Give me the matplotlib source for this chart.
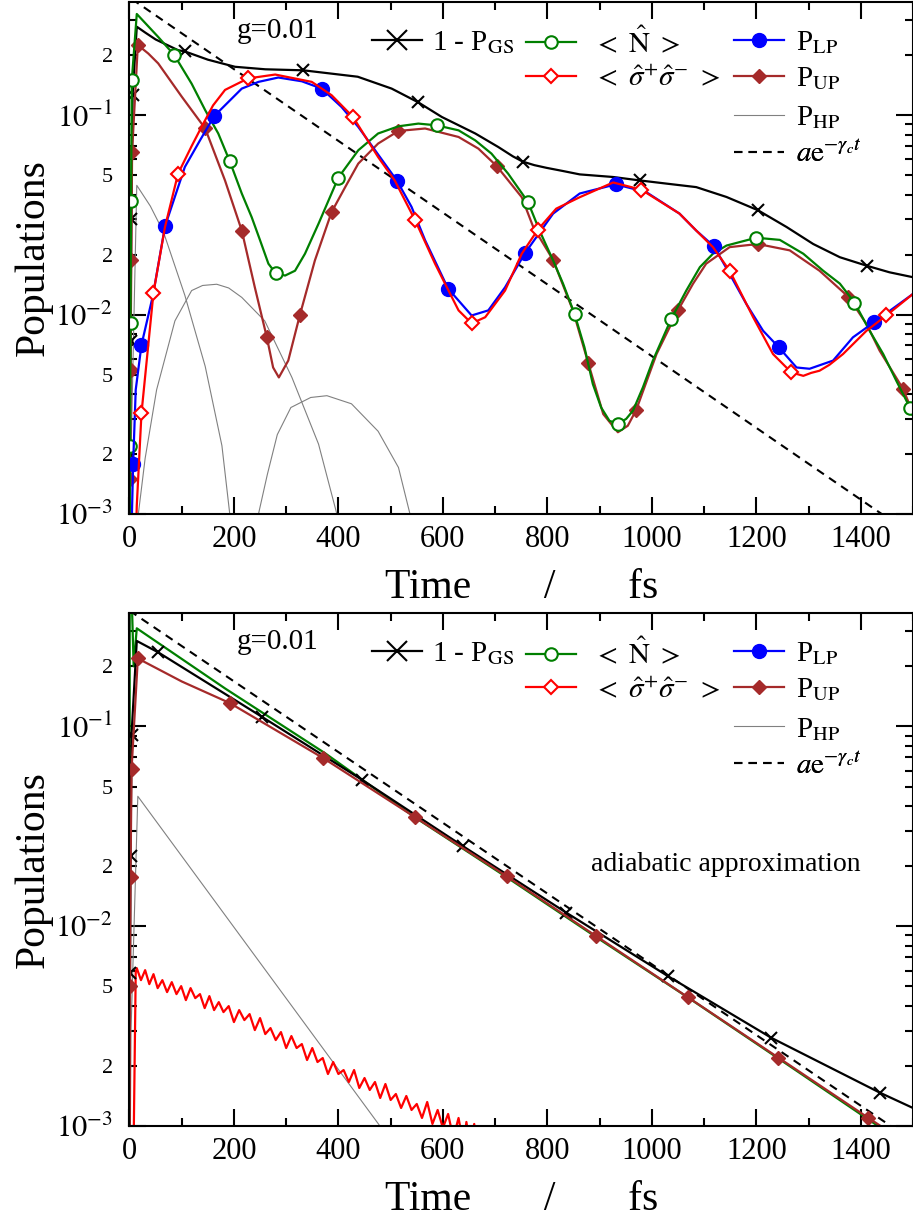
import numpy as np
import matplotlib
matplotlib.use('Agg')
import matplotlib.pyplot as plt
from matplotlib.lines import Line2D
from matplotlib.ticker import MultipleLocator, LogLocator, FuncFormatter

plt.rcParams['font.family'] = ['Liberation Serif', 'DejaVu Serif']
plt.rcParams['mathtext.fontset'] = 'stix'

# ---------------- top panel (full dynamics) ----------------
top_gs_t = [0, 1, 2, 3.5, 6, 14, 30, 50, 93, 106, 150, 202, 260, 333, 437, 502, 553, 598, 662,
            706, 734, 753, 775, 798, 830, 862, 926, 977, 1028, 1085, 1143, 1203, 1258, 1309,
            1360, 1411, 1455, 1500]
top_gs_v = [3e-4, 0.002, 0.0074, 0.03, 0.126, 0.278, 0.26, 0.24, 0.212, 0.209, 0.19, 0.175, 0.17,
            0.168, 0.156, 0.136, 0.116, 0.098, 0.081, 0.0693, 0.0622, 0.0585, 0.0562, 0.0545,
            0.0525, 0.0505, 0.049, 0.0471, 0.0454, 0.0436, 0.0389, 0.0334, 0.0275, 0.0226,
            0.0194, 0.0176, 0.0163, 0.0154]
top_gs_mk = [1, 2, 3, 4, 9, 13, 16, 21, 27, 31, 35]

top_n_t = [0, 1, 2, 3, 4.5, 14, 55, 86, 119, 145, 170, 192, 215, 234, 250, 266, 280, 298, 317,
           336, 362, 400, 438, 476, 515, 553, 588, 630, 662, 693, 725, 763, 785, 811, 830, 852,
           871, 887, 903, 919, 936, 951, 964, 983, 1002, 1037, 1066, 1092, 1117, 1143, 1200,
           1245, 1290, 1328, 1360, 1388, 1417, 1443, 1468, 1494, 1500]
top_n_v = [1e-4, 0.0022, 0.0091, 0.037, 0.15, 0.322, 0.247, 0.20, 0.144, 0.106, 0.081, 0.0588,
           0.0405, 0.0308, 0.0236, 0.018, 0.0161, 0.0157, 0.0166, 0.0202, 0.0286, 0.0487, 0.0667,
           0.081, 0.088, 0.0908, 0.089, 0.084, 0.0748, 0.0642, 0.0509, 0.0367, 0.0264, 0.0187,
           0.0143, 0.0101, 0.00686, 0.00449, 0.00342, 0.00293, 0.00284, 0.003, 0.0033, 0.00432,
           0.00588, 0.0095, 0.0132, 0.0173, 0.0202, 0.0222, 0.0243, 0.0237, 0.0202, 0.0166,
           0.0143, 0.0115, 0.0083, 0.00634, 0.00466, 0.00342, 0.0031]
top_n_mk = [1, 2, 3, 4, 7, 11, 16, 21, 26, 31, 35, 40, 45, 50, 55, 59]

top_s_t = [8, 14, 23, 46, 68, 93, 119, 138, 160, 183, 227, 279, 349, 387, 428, 476, 508, 547,
           585, 614, 630, 655, 681, 719, 751, 782, 817, 862, 926, 980, 1053, 1085, 1117, 1149,
           1194, 1232, 1267, 1290, 1305, 1321, 1340, 1366, 1411, 1449, 1500]
top_s_v = [3e-4, 0.0011, 0.0032, 0.0129, 0.0275, 0.0509, 0.07, 0.0874, 0.112, 0.134, 0.153,
           0.160, 0.147, 0.126, 0.098, 0.0617, 0.047, 0.0297, 0.018, 0.0127, 0.0105, 0.00904,
           0.0097, 0.0132, 0.0202, 0.0267, 0.034, 0.0388, 0.046, 0.0423, 0.0321, 0.0264, 0.0218,
           0.0166, 0.0097, 0.00634, 0.00513, 0.00493, 0.0051, 0.00523, 0.0056, 0.00634, 0.0083,
           0.0099, 0.0127]
top_s_mk = [2, 3, 5, 10, 14, 17, 21, 25, 29, 33, 36, 43]

top_lp_t = [2, 7, 12, 23, 45, 68, 106, 135, 162, 215, 247, 285, 330, 368, 406, 438, 512, 540,
            566, 610, 655, 687, 719, 757, 811, 862, 931, 989, 1053, 1085, 1119, 1149, 1181,
            1213, 1243, 1277, 1302, 1347, 1385, 1425, 1500]
top_lp_v = [5e-4, 0.00178, 0.0042, 0.00705, 0.0125, 0.0277, 0.055, 0.0748, 0.0989, 0.136, 0.147,
            0.1546, 0.148, 0.136, 0.110, 0.0874, 0.047, 0.0347, 0.0236, 0.0135, 0.0099, 0.0105,
            0.0137, 0.0203, 0.0321, 0.0405, 0.045, 0.0412, 0.0321, 0.0264, 0.0220, 0.016, 0.0113,
            0.0083, 0.00686, 0.00543, 0.00535, 0.00588, 0.00769, 0.00914, 0.0127]
top_lp_mk = [1, 3, 5, 8, 13, 16, 19, 23, 26, 30, 34, 39]

top_up_t = [0, 1, 2, 3.5, 5, 16, 36, 55, 100, 145, 183, 215, 240, 263, 275, 286, 304, 326, 355,
            387, 413, 438, 476, 515, 566, 630, 668, 703, 751, 773, 811, 849, 878, 907, 935, 954,
            970, 1009, 1050, 1079, 1104, 1149, 1203, 1264, 1321, 1376, 1411, 1436, 1481, 1500]
top_up_v = [3e-4, 0.0015, 0.0053, 0.0187, 0.0654, 0.225, 0.204, 0.182, 0.124, 0.0858, 0.047,
            0.0264, 0.0137, 0.00769, 0.00543, 0.00484, 0.00588, 0.0099, 0.0187, 0.0327, 0.0436,
            0.0572, 0.0721, 0.0834, 0.0858, 0.0778, 0.068, 0.0556, 0.0388, 0.0275, 0.0188,
            0.0105, 0.00575, 0.00317, 0.00257, 0.00277, 0.00332, 0.00634, 0.0105, 0.0143, 0.018,
            0.0218, 0.0226, 0.021, 0.0166, 0.0123, 0.00897, 0.0066, 0.00424, 0.0032]
top_up_mk = [1, 2, 3, 4, 5, 9, 11, 13, 17, 19, 23, 27, 30, 32, 36, 38, 42, 45, 48]

# higher polariton populations (thin grey arcs)
top_hp1_t = [0, 3, 14, 40, 65, 106, 145, 177, 192, 200]
top_hp1_v = [2e-4, 0.002, 0.0445, 0.035, 0.026, 0.0125, 0.0055, 0.0022, 0.001, 0.0007]
top_hp2_t = [12, 17, 30, 52, 87, 119, 140, 167, 190, 215, 259, 311, 362, 397, 405]
top_hp2_v = [0.0005, 0.001, 0.0019, 0.0042, 0.0093, 0.0132, 0.0140, 0.0142, 0.0136, 0.0122,
             0.0093, 0.00484, 0.00224, 0.001, 0.0008]
top_hp3_t = [240, 247, 264, 283, 309, 347, 378, 425, 476, 515, 537, 545]
top_hp3_v = [0.0007, 0.001, 0.00158, 0.0025, 0.00342, 0.00384, 0.00392, 0.00357, 0.0026,
             0.00171, 0.001, 0.0008]

top_fit_t = [0, 1500]
top_fit_v = [0.39, 0.00078]

# ---------------- bottom panel (adiabatic approximation) ----------------
bot_gs_t = [0, 1, 2, 4, 14, 55, 253, 445, 639, 836, 1031, 1229, 1436, 1500]
bot_gs_v = [3e-4, 0.0058, 0.0224, 0.091, 0.268, 0.235, 0.112, 0.0541, 0.0251, 0.0117, 0.00562,
            0.00276, 0.00147, 0.00123]
bot_gs_mk = [1, 2, 3, 5, 6, 7, 8, 9, 10, 11, 12]

bot_n_t = [0, 0.5, 8, 14, 183, 374, 547, 722, 894, 1069, 1242, 1414, 1500]
bot_n_v = [1e-4, 1.0, 0.2, 0.31, 0.155, 0.0736, 0.035, 0.0176, 0.0088, 0.0044, 0.00218, 0.00108,
           0.00076]

bot_up_t = [0, 1, 2, 4, 16, 100, 192, 371, 547, 722, 894, 1069, 1242, 1414, 1500]
bot_up_v = [3e-4, 0.005, 0.0176, 0.061, 0.219, 0.168, 0.131, 0.0694, 0.0351, 0.0178, 0.0089,
            0.00441, 0.0022, 0.0011, 0.00078]
bot_up_mk = [1, 2, 3, 4, 6, 7, 8, 9, 10, 11, 12, 13]

bot_s_t = [7, 12, 14, 22, 30, 38, 46, 54, 63, 72, 81, 90, 99, 108, 117, 126, 135, 144, 153, 162,
           171, 180, 190, 200, 210, 220, 230, 240, 250, 260, 270, 280, 290, 300, 310, 320, 330,
           340, 350, 360, 370, 380, 390, 400, 410, 420, 430, 440, 450, 460, 470, 480, 490, 500,
           510, 520, 530, 540, 550, 560, 570, 580, 590, 600, 610, 620, 630, 640, 645, 652, 660, 665]
bot_s_log = [-3.3, -2.23, -2.21, -2.27, -2.22, -2.29, -2.24, -2.31, -2.27, -2.33, -2.28, -2.34,
             -2.30, -2.37, -2.31, -2.36, -2.34, -2.41, -2.35, -2.42, -2.38, -2.43, -2.40, -2.48,
             -2.42, -2.47, -2.44, -2.52, -2.46, -2.54, -2.51, -2.57, -2.53, -2.61, -2.55, -2.61,
             -2.59, -2.67, -2.61, -2.68, -2.66, -2.74, -2.68, -2.74, -2.72, -2.78, -2.72, -2.81,
             -2.76, -2.82, -2.78, -2.86, -2.79, -2.87, -2.84, -2.91, -2.85, -2.92, -2.89, -2.96,
             -2.88, -2.99, -2.92, -3.01, -2.94, -3.06, -2.96, -3.10, -2.98, -3.10, -2.99, -3.10]

bot_hp_t = [0, 3, 16, 477, 485]
bot_hp_v = [2e-4, 0.003, 0.0447, 0.00102, 0.00095]

bot_fit_t = [0, 1500]
bot_fit_v = [0.38, 0.00084]

GREEN = '#007f00'
BROWN = '#a52a2a'
GREY = '#808080'
LW = 1.6

gs_style = dict(color='black', lw=LW, marker='x', ms=9, mew=1.5)
n_style = dict(color=GREEN, lw=LW, marker='o', ms=9, mfc='white', mew=1.5)
s_style = dict(color='red', lw=LW, marker='D', ms=7, mfc='white', mew=1.5)
lp_style = dict(color='blue', lw=LW, marker='o', ms=10)
up_style = dict(color=BROWN, lw=LW, marker='D', ms=7.5)
hp_style = dict(color=GREY, lw=0.8)
fit_style = dict(color='black', lw=1.5, ls=(0, (4, 3)))


def minor_fmt(v, _):
    e = np.floor(np.log10(v) + 1e-9)
    m = v / 10 ** e
    for k in (2, 5):
        if abs(m - k) < 1e-6:
            return str(k)
    return ''


def style_axes(ax):
    ax.set_yscale('log')
    ax.set_xlim(0, 1500)
    ax.set_ylim(1e-3, 0.37)
    ax.xaxis.set_major_locator(MultipleLocator(200))
    ax.xaxis.set_minor_locator(MultipleLocator(100))
    ax.yaxis.set_major_locator(LogLocator(base=10, numticks=10))
    ax.yaxis.set_minor_locator(LogLocator(base=10, subs=np.arange(2, 10), numticks=20))
    ax.yaxis.set_major_formatter(
        FuncFormatter(lambda v, _: '$10^{%d}$' % int(round(np.log10(v)))))
    ax.yaxis.set_minor_formatter(FuncFormatter(minor_fmt))
    ax.tick_params(which='both', direction='in', top=True, right=True, width=1.5)
    ax.tick_params(which='major', length=12, labelsize=22)
    ax.tick_params(which='minor', length=6)
    ax.tick_params(axis='x', which='both', pad=8)
    ax.tick_params(axis='y', which='both', pad=12)
    ax.tick_params(axis='y', which='minor', labelsize=16)
    for s in ax.spines.values():
        s.set_linewidth(1.5)
    ax.set_xlabel('Time       /       fs', fontsize=30)
    ax.set_ylabel('Populations', fontsize=30)
    ax.xaxis.set_label_coords(0.5, -0.106)
    ax.yaxis.set_label_coords(-0.098, 0.5)
    ax.text(0.137, 0.943, 'g=0.01', transform=ax.transAxes, fontsize=21, va='center')


def add_legends(ax):
    h_gs = Line2D([], [], **dict(gs_style, ms=14))
    h_n = Line2D([], [], **n_style)
    h_s = Line2D([], [], **s_style)
    h_lp = Line2D([], [], **lp_style)
    h_up = Line2D([], [], **up_style)
    h_hp = Line2D([], [], **hp_style)
    h_fit = Line2D([], [], **fit_style)
    # legend layout: (handle, label, column x, row, text pad)
    rows = [0.92, 0.8496, 0.7734, 0.701]
    entries = [
        (h_gs, r'1 - P$_{\mathrm{GS}}$', 0.3097, 0, 0.35),
        (h_n, r'$<\ \hat{\mathrm{N}}\ >$', 0.5064, 0, 0.6),
        (h_s, r'$<\ \hat{\sigma}^{+}\hat{\sigma}^{-}\ >$', 0.5064, 1, 0.6),
        (h_lp, r'P$_{\mathrm{LP}}$', 0.772, 0, 0.4),
        (h_up, r'P$_{\mathrm{UP}}$', 0.772, 1, 0.4),
        (h_hp, r'P$_{\mathrm{HP}}$', 0.772, 2, 0.4),
        (h_fit, r'$a\mathrm{e}^{-\gamma_c t}$', 0.772, 3, 0.4),
    ]
    for h, lab, x, r, pad in entries:
        leg = ax.legend([h], [lab], loc='center left', bbox_to_anchor=(x, rows[r]),
                        frameon=False, borderpad=0, borderaxespad=0, handlelength=1.7,
                        handletextpad=pad, fontsize=21, numpoints=1)
        ax.add_artist(leg)


fig = plt.figure(figsize=(9.13, 12.22), dpi=100)
ax1 = fig.add_axes([0.1418, 0.5794, 0.8582, 0.419])
ax2 = fig.add_axes([0.1418, 0.0786, 0.8582, 0.4198])

# top panel
ax1.plot(top_hp1_t, top_hp1_v, **hp_style)
ax1.plot(top_hp2_t, top_hp2_v, **hp_style)
ax1.plot(top_hp3_t, top_hp3_v, **hp_style)
ax1.plot(top_fit_t, top_fit_v, **fit_style)
ax1.plot(top_gs_t, top_gs_v, markevery=top_gs_mk, **gs_style)
ax1.plot(top_up_t, top_up_v, markevery=top_up_mk, **up_style)
ax1.plot(top_n_t, top_n_v, markevery=top_n_mk, **n_style)
ax1.plot(top_lp_t, top_lp_v, markevery=top_lp_mk, **lp_style)
ax1.plot(top_s_t, top_s_v, markevery=top_s_mk, **s_style)
style_axes(ax1)
add_legends(ax1)

# bottom panel
ax2.plot(bot_hp_t, bot_hp_v, **hp_style)
ax2.plot(bot_fit_t, bot_fit_v, **fit_style)
ax2.plot(bot_s_t, 10 ** np.array(bot_s_log), color='red', lw=LW)
ax2.plot(bot_n_t, bot_n_v, color=GREEN, lw=LW)
ax2.plot(bot_gs_t, bot_gs_v, markevery=bot_gs_mk, **gs_style)
ax2.plot(bot_up_t, bot_up_v, markevery=bot_up_mk, **up_style)
style_axes(ax2)
add_legends(ax2)
ax2.text(0.589, 0.509, 'adiabatic approximation', transform=ax2.transAxes,
         fontsize=20, va='center')

fig.savefig('out.png', dpi=100)
